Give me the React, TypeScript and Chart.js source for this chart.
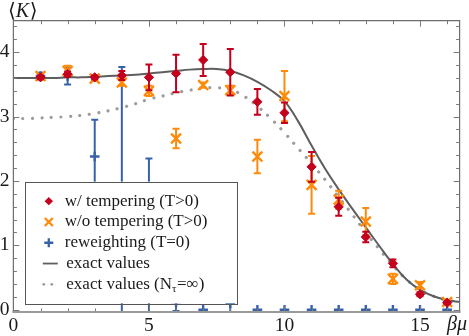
import React, { useEffect, useRef } from "react";
import { Chart, registerables } from "chart.js";

Chart.register(...registerables);

// ---- data ----
const betaMu = [1, 2, 3, 4, 5, 6, 7, 8, 9, 10, 11, 12, 13, 14, 15, 16];

const withTempering = [3.61, 3.66, 3.61, 3.64, 3.61, 3.67, 3.88, 3.69, 3.23, 3.06, 2.22, 1.6, 1.13, 0.72, 0.24, 0.11];
const withTemperingErr = [0.03, 0.04, 0.03, 0.07, 0.2, 0.29, 0.25, 0.36, 0.2, 0.16, 0.23, 0.14, 0.08, 0.06, 0.03, 0.02];

const withoutTempering = [3.63, 3.71, 3.59, 3.53, 3.4, 2.66, 3.49, 3.41, 2.38, 3.32, 1.94, 1.71, 1.37, 0.48, 0.38, 0.12];
const withoutTemperingErr = [0.03, 0.08, 0.03, 0.05, 0.08, 0.15, 0.04, 0.07, 0.26, 0.39, 0.45, 0.14, 0.21, 0.08, 0.05, 0.03];

const reweighting = [3.63, 3.63, 2.38, 1.5, 1.0, 0.12, 0.0, 0.1, 0.0, 0.0, 0.0, 0.0, 0.0, 0.0, 0.0, 0.0];
const reweightingErr = [0.05, 0.13, 0.57, 2.27, 1.35, 0.14, 0, 0.2, 0, 0, 0, 0, 0, 0, 0, 0];

const exactX = [0, 0.5, 1, 1.5, 2, 2.5, 3, 3.5, 4, 4.5, 5, 5.5, 6, 6.5, 7, 7.5, 8, 8.5, 9, 9.5, 10, 10.5, 11, 11.5, 12, 12.5, 13, 13.5, 14, 14.5, 15, 15.5, 16, 16.5];
const exactValues = [3.6, 3.6, 3.6, 3.6, 3.61, 3.61, 3.62, 3.63, 3.64, 3.65, 3.67, 3.69, 3.71, 3.73, 3.74, 3.74, 3.71, 3.64, 3.54, 3.41, 3.24, 2.93, 2.55, 2.19, 1.87, 1.57, 1.28, 0.99, 0.71, 0.47, 0.31, 0.21, 0.15, 0.12];
const exactInfValues = [2.97, 2.97, 2.98, 2.99, 3.0, 3.02, 3.05, 3.09, 3.14, 3.2, 3.27, 3.32, 3.37, 3.41, 3.44, 3.45, 3.42, 3.32, 3.16, 2.97, 2.75, 2.51, 2.27, 2.02, 1.75, 1.48, 1.2, 0.94, 0.69, 0.47, 0.31, 0.21, 0.15, 0.12];

const xTickLabels = [0, 5, 10, 15];
const yTickLabels = [0, 1, 2, 3, 4];

const legendLabels = [
  "w/ tempering (T>0)",
  "w/o tempering (T>0)",
  "reweighting (T=0)",
  "exact values",
  "exact values (N",
];

// ---- styles ----
const RED = "#c4001c";
const ORANGE = "#ff8a0a";
const BLUE = "#3862a8";
const LINE = "#5e5e5e";
const DOT = "#9c9c9c";
const SERIF = '"Liberation Serif", "Times New Roman", "DejaVu Serif", serif';

function drawMarker(ctx: CanvasRenderingContext2D, kind: string, x: number, y: number, r: number) {
  ctx.save();
  if (kind === "diamond") {
    ctx.fillStyle = RED;
    ctx.beginPath();
    ctx.moveTo(x - r, y);
    ctx.lineTo(x, y - r);
    ctx.lineTo(x + r, y);
    ctx.lineTo(x, y + r);
    ctx.closePath();
    ctx.fill();
  } else if (kind === "x") {
    ctx.strokeStyle = ORANGE;
    ctx.lineWidth = 2.3;
    ctx.beginPath();
    ctx.moveTo(x - r, y - r);
    ctx.lineTo(x + r, y + r);
    ctx.moveTo(x + r, y - r);
    ctx.lineTo(x - r, y + r);
    ctx.stroke();
  } else if (kind === "plus") {
    ctx.strokeStyle = BLUE;
    ctx.lineWidth = 2.3;
    ctx.beginPath();
    ctx.moveTo(x - r, y);
    ctx.lineTo(x + r, y);
    ctx.moveTo(x, y - r);
    ctx.lineTo(x, y + r);
    ctx.stroke();
  }
  ctx.restore();
}

const errorBarPlugin = {
  id: "errorBars",
  beforeDatasetDraw(chart: any, args: any) {
    const ds = chart.data.datasets[args.index];
    if (!ds.errors) return;
    const { ctx, chartArea, scales } = chart;
    const xs = scales.x;
    const ys = scales.y;
    ctx.save();
    ctx.beginPath();
    ctx.rect(chartArea.left, chartArea.top, chartArea.right - chartArea.left, chartArea.bottom - chartArea.top);
    ctx.clip();
    ctx.strokeStyle = ds.errorColor;
    ctx.lineWidth = ds.errorWidth;
    ds.data.forEach((p: any, i: number) => {
      const e = ds.errors[i];
      if (!e) return;
      const px = xs.getPixelForValue(p.x);
      const top = ys.getPixelForValue(p.y + e);
      const bot = ys.getPixelForValue(p.y - e);
      const c = ds.capHalf;
      ctx.beginPath();
      ctx.moveTo(px, top);
      ctx.lineTo(px, bot);
      ctx.moveTo(px - c, top);
      ctx.lineTo(px + c, top);
      ctx.moveTo(px - c, bot);
      ctx.lineTo(px + c, bot);
      ctx.stroke();
    });
    ctx.restore();
  },
};

const framePlugin = {
  id: "frame",
  afterDatasetsDraw(chart: any) {
    const { ctx, chartArea, scales } = chart;
    const { left, right, top, bottom } = chartArea;
    const xs = scales.x;
    const ys = scales.y;
    ctx.save();
    // ticks
    ctx.strokeStyle = "#7a7a7a";
    ctx.lineWidth = 1;
    ctx.beginPath();
    for (let v = 0; v <= 16; v++) {
      const px = Math.round(xs.getPixelForValue(v)) + 0.5;
      const len = v % 5 === 0 ? 6 : 3.5;
      ctx.moveTo(px, bottom);
      ctx.lineTo(px, bottom - len);
      ctx.moveTo(px, top);
      ctx.lineTo(px, top + len);
    }
    for (let k = 0; k <= 22; k++) {
      const v = k * 0.2;
      const py = Math.round(ys.getPixelForValue(v)) + 0.5;
      const len = k % 5 === 0 ? 6 : 3.5;
      ctx.moveTo(left, py);
      ctx.lineTo(left + len, py);
      ctx.moveTo(right, py);
      ctx.lineTo(right - len, py);
    }
    ctx.stroke();
    // frame
    ctx.strokeStyle = "#6e6e6e";
    ctx.lineWidth = 1.2;
    ctx.beginPath();
    ctx.moveTo(left, bottom);
    ctx.lineTo(left, top);
    ctx.lineTo(right, top);
    ctx.lineTo(right, bottom);
    ctx.stroke();
    ctx.strokeStyle = "#9a9a9a";
    ctx.lineWidth = 2;
    ctx.beginPath();
    ctx.moveTo(left - 1, bottom);
    ctx.lineTo(right + 1, bottom);
    ctx.stroke();
    ctx.restore();
  },
  afterDraw(chart: any) {
    const { ctx, scales } = chart;
    const xs = scales.x;
    const ys = scales.y;
    ctx.save();
    // legend box
    const lx0 = xs.getPixelForValue(0.42);
    const lx1 = xs.getPixelForValue(8.23);
    const ly0 = ys.getPixelForValue(1.99);
    const ly1 = ys.getPixelForValue(0.1);
    ctx.fillStyle = "#ffffff";
    ctx.fillRect(lx0, ly0, lx1 - lx0, ly1 - ly0);
    ctx.strokeStyle = "#555555";
    ctx.lineWidth = 1;
    ctx.strokeRect(Math.round(lx0) + 0.5, Math.round(ly0) + 0.5, Math.round(lx1 - lx0), Math.round(ly1 - ly0));

    const rowY = (i: number) => ly0 + 19.5 + i * 20.8;
    const mx = lx0 + 24;
    drawMarker(ctx, "diamond", mx, rowY(0), 4.2);
    drawMarker(ctx, "x", mx, rowY(1), 4);
    drawMarker(ctx, "plus", mx, rowY(2), 4.5);
    ctx.strokeStyle = LINE;
    ctx.lineWidth = 1.8;
    ctx.beginPath();
    ctx.moveTo(mx - 6, rowY(3));
    ctx.lineTo(mx + 9, rowY(3));
    ctx.stroke();
    ctx.fillStyle = DOT;
    [mx - 5, mx + 3].forEach((dx) => {
      ctx.beginPath();
      ctx.arc(dx, rowY(4), 1.4, 0, Math.PI * 2);
      ctx.fill();
    });

    ctx.fillStyle = "#1a1a1a";
    ctx.textBaseline = "alphabetic";
    ctx.textAlign = "left";
    ctx.font = `17px ${SERIF}`;
    for (let i = 0; i < legendLabels.length; i++) {
      const tx = i < 3 ? lx0 + 40 : lx0 + 41.5;
      ctx.fillText(legendLabels[i], tx, rowY(i) + 4.5);
    }
    // subscript and rest of last entry
    let tx = lx0 + 41.5 + ctx.measureText(legendLabels[4]).width;
    ctx.font = `11px ${SERIF}`;
    ctx.fillText("\u03c4", tx, rowY(4) + 7.5);
    tx += ctx.measureText("\u03c4").width + 0.5;
    ctx.font = `17px ${SERIF}`;
    ctx.fillText("=\u221e)", tx, rowY(4) + 4.5);

    // axis labels
    ctx.font = `20px ${SERIF}`;
    let ax = 8;
    ctx.fillText("\u27e8", ax, 17);
    ax += ctx.measureText("\u27e8").width;
    ctx.font = `italic 20px ${SERIF}`;
    ctx.fillText("K", ax, 17);
    ax += ctx.measureText("K").width + 0.5;
    ctx.font = `20px ${SERIF}`;
    ctx.fillText("\u27e9", ax, 17);

    ctx.font = `italic 20px ${SERIF}`;
    ctx.fillText("\u03b2\u03bc", 447, 330);
    ctx.restore();
  },
};

export default function App() {
  const ref = useRef<HTMLCanvasElement | null>(null);

  useEffect(() => {
    document.body.style.margin = "0";
    const canvas = ref.current;
    if (!canvas) return;
    const pts = (ys: number[]) => betaMu.map((x, i) => ({ x, y: ys[i] }));
    const line = (ys: number[]) => exactX.map((x, i) => ({ x, y: ys[i] }));

    const chart = new Chart(canvas, {
      type: "scatter",
      data: {
        datasets: [
          {
            label: legendLabels[0],
            data: pts(withTempering),
            errors: withTemperingErr,
            errorColor: RED,
            errorWidth: 2,
            capHalf: 3.5,
            pointStyle: "rectRot",
            pointRadius: 4.6,
            backgroundColor: RED,
            borderColor: RED,
            borderWidth: 1,
            showLine: false,
          } as any,
          {
            label: legendLabels[1],
            data: pts(withoutTempering),
            errors: withoutTemperingErr,
            errorColor: ORANGE,
            errorWidth: 2,
            capHalf: 3.5,
            pointStyle: "crossRot",
            pointRadius: 7,
            backgroundColor: ORANGE,
            borderColor: ORANGE,
            borderWidth: 2.4,
            showLine: false,
          } as any,
          {
            label: legendLabels[2],
            data: pts(reweighting),
            errors: reweightingErr,
            errorColor: BLUE,
            errorWidth: 2,
            capHalf: 3.5,
            pointStyle: "cross",
            pointRadius: 4.8,
            backgroundColor: BLUE,
            borderColor: BLUE,
            borderWidth: 2.4,
            showLine: false,
          } as any,
          {
            label: legendLabels[3],
            data: line(exactValues),
            showLine: true,
            pointRadius: 0,
            borderColor: LINE,
            borderWidth: 2,
            tension: 0.4,
          } as any,
          {
            label: "exact values (N\u03c4=\u221e)",
            data: line(exactInfValues),
            showLine: true,
            pointRadius: 0,
            borderColor: DOT,
            borderWidth: 3.2,
            borderDash: [0.01, 9.5],
            borderCapStyle: "round",
            tension: 0.4,
          } as any,
        ],
      },
      options: {
        responsive: false,
        animation: false,
        events: [],
        layout: { padding: { top: 20.7, right: 5.7, left: 0, bottom: 0 } },
        plugins: {
          legend: { display: false },
          tooltip: { enabled: false },
        },
        scales: {
          x: {
            type: "linear",
            min: 0,
            max: 16.46,
            grid: { display: false, drawTicks: false },
            border: { display: false },
            afterBuildTicks: (scale: any) => {
              scale.ticks = xTickLabels.map((v) => ({ value: v }));
            },
            afterFit: (scale: any) => {
              scale.height = 24;
            },
            ticks: {
              autoSkip: false,
              maxRotation: 0,
              padding: 2,
              color: "#1a1a1a",
              font: { family: SERIF, size: 19.5 },
              callback: (v: any) => String(v),
            },
          },
          y: {
            type: "linear",
            min: -0.035,
            max: 4.49,
            grid: { display: false, drawTicks: false },
            border: { display: false },
            afterBuildTicks: (scale: any) => {
              scale.ticks = yTickLabels.map((v) => ({ value: v }));
            },
            afterFit: (scale: any) => {
              scale.width = 13.4;
            },
            ticks: {
              autoSkip: false,
              padding: 4,
              color: "#1a1a1a",
              font: { family: SERIF, size: 19.5 },
              callback: (v: any) => String(v),
            },
          },
        },
      } as any,
      plugins: [errorBarPlugin, framePlugin],
    });
    return () => chart.destroy();
  }, []);

  return (
    <div style={{ width: 469, height: 336 }}>
      <canvas ref={ref} width={469} height={336} style={{ display: "block", width: 469, height: 336 }} />
    </div>
  );
}
